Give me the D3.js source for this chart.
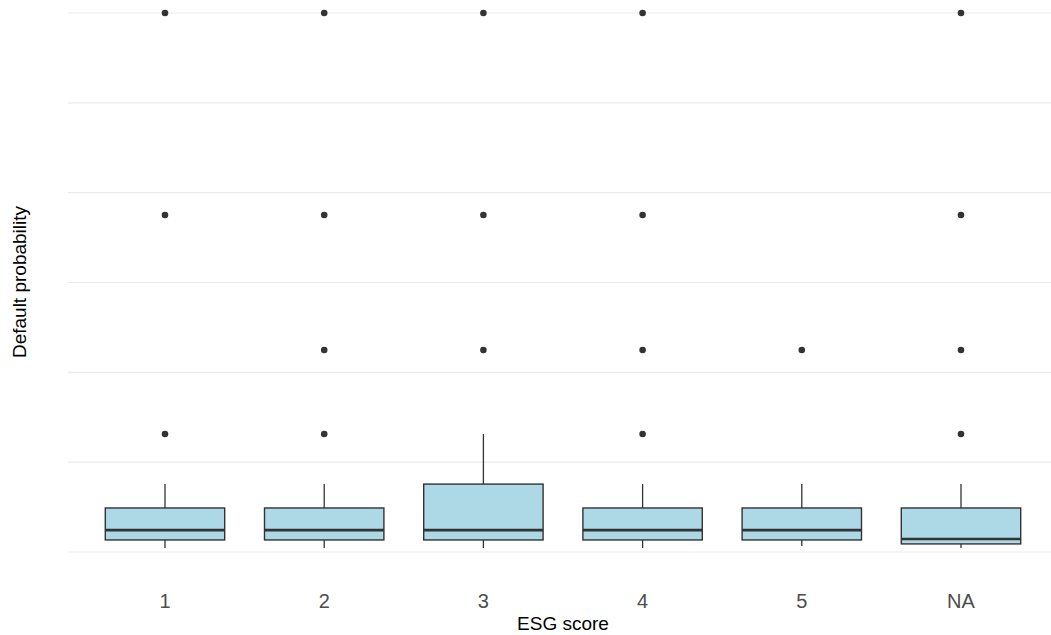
<!DOCTYPE html>
<html>
<head>
<meta charset="utf-8">
<script src="https://cdn.jsdelivr.net/npm/d3@7"></script>
<style>
  html, body { margin: 0; padding: 0; background: #ffffff; }
  svg { display: block; }
  text { font-family: "Liberation Sans", Arial, sans-serif; }
</style>
</head>
<body>
<svg id="chart" width="1051" height="635"></svg>
<script>
// ESG score groups
const categories = ["1", "2", "3", "4", "5", "NA"];

// Box statistics per group (default probability)
const whiskerLow = [0.0022, 0.0022, 0.0022, 0.0022, 0.0033, 0.0022];
const q1         = [0.0067, 0.0067, 0.0067, 0.0067, 0.0067, 0.0045];
const median     = [0.0122, 0.0122, 0.0122, 0.0122, 0.0122, 0.0072];
const q3         = [0.0245, 0.0245, 0.0378, 0.0245, 0.0245, 0.0245];
const whiskerHigh= [0.0378, 0.0378, 0.0657, 0.0378, 0.0378, 0.0378];

// Outlying observations per group
const outliers = [
  [0.0657, 0.1876, 0.30],
  [0.0657, 0.1124, 0.1876, 0.30],
  [0.1124, 0.1876, 0.30],
  [0.0657, 0.1124, 0.1876, 0.30],
  [0.1124],
  [0.0657, 0.1124, 0.1876, 0.30]
];

// Horizontal grid positions
const gridValues = [0, 0.05, 0.10, 0.15, 0.20, 0.25, 0.30];

const svg = d3.select("#chart");

const x = d3.scalePoint().domain(categories).range([165, 961]);
const y = d3.scaleLinear().domain([0, 0.30]).range([552, 13]);
const step = x.step();
const boxW = step * 0.75;

// grid
svg.append("g").selectAll("line").data(gridValues).join("line")
  .attr("x1", 68).attr("x2", 1051)
  .attr("y1", d => y(d)).attr("y2", d => y(d))
  .attr("stroke", "#ebebeb").attr("stroke-width", 1.2);

const stats = categories.map((c, i) => ({
  c, lo: whiskerLow[i], q1: q1[i], med: median[i], q3: q3[i], hi: whiskerHigh[i], out: outliers[i]
}));

const g = svg.append("g").selectAll("g").data(stats).join("g");

// whiskers
g.append("line")
  .attr("x1", d => x(d.c)).attr("x2", d => x(d.c))
  .attr("y1", d => y(d.q3)).attr("y2", d => y(d.hi))
  .attr("stroke", "#333333").attr("stroke-width", 1.3);
g.append("line")
  .attr("x1", d => x(d.c)).attr("x2", d => x(d.c))
  .attr("y1", d => y(d.q1)).attr("y2", d => y(d.lo))
  .attr("stroke", "#333333").attr("stroke-width", 1.3);

// boxes
g.append("rect")
  .attr("x", d => x(d.c) - boxW / 2).attr("width", boxW)
  .attr("y", d => y(d.q3)).attr("height", d => y(d.q1) - y(d.q3))
  .attr("fill", "#add8e6").attr("stroke", "#333333").attr("stroke-width", 1.4);

// medians
g.append("line")
  .attr("x1", d => x(d.c) - boxW / 2).attr("x2", d => x(d.c) + boxW / 2)
  .attr("y1", d => y(d.med)).attr("y2", d => y(d.med))
  .attr("stroke", "#333333").attr("stroke-width", 2.6);

// outliers
g.selectAll("circle").data(d => d.out.map(v => ({ c: d.c, v }))).join("circle")
  .attr("cx", d => x(d.c)).attr("cy", d => y(d.v)).attr("r", 3.3)
  .attr("fill", "#333333");

// x tick labels
svg.append("g").selectAll("text").data(categories).join("text")
  .attr("x", d => x(d)).attr("y", 608)
  .attr("text-anchor", "middle")
  .attr("font-size", 20).attr("fill", "#4d4d4d")
  .text(d => d);

// axis titles
svg.append("text")
  .attr("x", x("3") + step / 2).attr("y", 630)
  .attr("text-anchor", "middle").attr("font-size", 19).attr("fill", "#000")
  .text("ESG score");

svg.append("text")
  .attr("transform", "translate(26,282) rotate(-90)")
  .attr("text-anchor", "middle").attr("font-size", 19).attr("fill", "#000")
  .text("Default probability");
</script>
</body>
</html>
